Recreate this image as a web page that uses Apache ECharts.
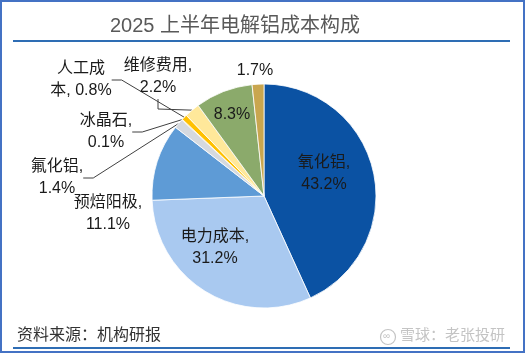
<!DOCTYPE html>
<html>
<head>
<meta charset="utf-8">
<script src="https://cdn.jsdelivr.net/npm/echarts@6/dist/echarts.min.js"></script>
<style>
  html, body { margin: 0; padding: 0; background: #fff; }
  #chart { width: 526px; height: 354px; }
</style>
</head>
<body>
<div id="chart"></div>
<script>
const categories = ["氧化铝", "电力成本", "预焙阳极", "氟化铝", "冰晶石", "人工成本", "维修费用", "其他", "其他费用"];
const shares = [43.2, 31.2, 11.1, 1.4, 0.1, 0.8, 2.2, 8.3, 1.7];
const labelTexts = [
  "氧化铝,\n43.2%",
  "电力成本,\n31.2%",
  "预焙阳极,\n11.1%",
  "氟化铝,\n1.4%",
  "冰晶石,\n0.1%",
  "人工成\n本, 0.8%",
  "维修费用,\n2.2%",
  "8.3%",
  "1.7%"
];

// label placement and colours (kept apart from the data)
const colors = ["#0B52A3", "#A9C9F0", "#5E9BD6", "#D5D9DF", "#BF9000", "#FFC000", "#FFE89A", "#8BAA6B", "#C9A64F"];
const labelPos = [[324, 174], [215, 248], [108, 214], [57, 178], [106, 132], [81, 80], [158, 77], [232, 115], [255, 71]];
const withLine = [false, false, false, true, true, true, true, false, false];

const FONT = "Arial, 'Liberation Sans', 'Noto Sans CJK SC', sans-serif";
const BLUE = "#2E6DB4";

const chart = echarts.init(document.getElementById("chart"));

chart.setOption({
  animation: false,
  title: {
    text: "2025 上半年电解铝成本构成",
    left: 230,
    top: 11,
    textAlign: "center",
    textStyle: { fontFamily: FONT, fontSize: 20, fontWeight: "normal", color: "#595959" }
  },
  graphic: [
    { type: "rect", shape: { x: 1, y: 1, width: 523, height: 351 }, style: { fill: "none", stroke: "#4472C4", lineWidth: 2 } },
    { type: "line", shape: { x1: 13, y1: 41, x2: 510, y2: 41 }, style: { stroke: BLUE, lineWidth: 2 } },
    { type: "line", shape: { x1: 13, y1: 348, x2: 510, y2: 348 }, style: { stroke: BLUE, lineWidth: 2 } },
    { type: "text", left: 17, top: 328, style: { text: "资料来源：机构研报", font: "16px " + FONT, fill: "#333" } },
    { type: "circle", shape: { cx: 388, cy: 337, r: 7.5 }, style: { fill: "none", stroke: "#c4c4c4", lineWidth: 1.2 } },
    { type: "text", left: 383, top: 331, style: { text: "∞", font: "10px " + FONT, fill: "#c4c4c4" } },
    { type: "text", left: 400, top: 328, style: { text: "雪球：老张投研", font: "15px " + FONT, fill: "#c4c4c4" } }
  ],
  series: [
    {
      type: "pie",
      center: [264, 196],
      radius: [0, 112],
      startAngle: 90,
      clockwise: true,
      avoidLabelOverlap: false,
      itemStyle: { borderColor: "#fff", borderWidth: 0.8 },
      label: {
        fontFamily: FONT,
        fontSize: 16,
        lineHeight: 22,
        color: "#1a1a1a",
        align: "center"
      },
      labelLine: { lineStyle: { color: "#404040", width: 1 }, length: 10, length2: 10 },
      labelLayout: function (params) {
        const p = labelPos[params.dataIndex];
        return { x: p[0], y: p[1], align: "center", verticalAlign: "middle" };
      },
      data: categories.map((name, i) => ({
        name: name,
        value: shares[i],
        itemStyle: { color: colors[i] },
        label: {
          show: true,
          position: withLine[i] ? "outside" : "inside",
          formatter: labelTexts[i]
        },
        labelLine: { show: withLine[i] }
      }))
    }
  ]
});
</script>
</body>
</html>
